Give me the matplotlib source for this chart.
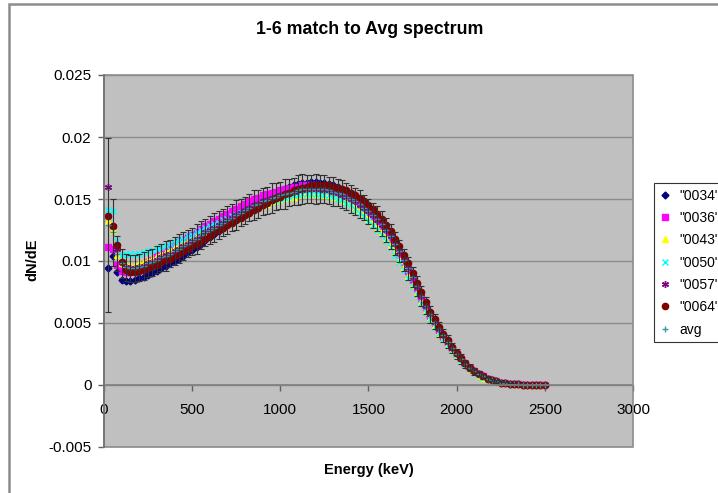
import numpy as np
import matplotlib
matplotlib.use("Agg")
import matplotlib.pyplot as plt
from matplotlib.patches import Rectangle

plt.rcParams['font.family'] = ['Liberation Sans', 'DejaVu Sans']

# energy grid (keV), one point every 25 keV
energy = np.arange(25, 2501, 25)

# dN/dE values, in units of 1e-4
s0034 = [94, 104, 91, 85, 84, 84, 85, 86, 87, 89,
         90, 92, 94, 96, 98, 100, 102, 104, 107, 109,
         111, 114, 117, 119, 122, 124, 127, 130, 132, 135,
         137, 140, 142, 145, 147, 149, 151, 153, 155, 157,
         158, 160, 161, 162, 163, 163, 164, 164, 163, 163,
         162, 161, 160, 158, 156, 154, 152, 149, 146, 143,
         139, 135, 131, 126, 121, 115, 108, 101, 94, 86,
         79, 71, 63, 56, 50, 44, 39, 34, 29, 24,
         20, 16, 13, 11, 9, 7, 5, 4, 3, 2,
         1.5, 1, 0.7, 0.5, 0.4, 0.3, 0.2, 0.1, 0.1, 0]
s0036 = [111, 110, 97, 92, 91, 91, 92, 94, 96, 99,
         101, 104, 106, 108, 111, 113, 115, 117, 119, 121,
         123, 126, 128, 130, 132, 134, 136, 138, 140, 142,
         144, 146, 148, 150, 151, 153, 154, 155, 156, 157,
         158, 159, 160, 160, 161, 161, 161, 161, 160, 160,
         159, 158, 156, 155, 153, 151, 148, 146, 143, 139,
         136, 132, 128, 123, 118, 112, 106, 99, 92, 85,
         78, 70, 63, 56, 50, 44, 39, 34, 29, 25,
         21, 17, 14, 11, 9, 7, 5, 4, 3, 2,
         1.5, 1, 0.8, 0.5, 0.4, 0.3, 0.2, 0.1, 0.1, 0]
s0043 = [132, 125, 105, 98, 97, 97, 97, 98, 99, 101,
         102, 104, 106, 107, 109, 111, 113, 115, 116, 118,
         120, 122, 124, 126, 128, 130, 131, 133, 135, 136,
         138, 139, 141, 142, 144, 145, 146, 148, 149, 150,
         151, 152, 152, 153, 154, 154, 154, 154, 154, 153,
         153, 152, 151, 149, 148, 146, 143, 141, 138, 134,
         131, 127, 123, 118, 113, 107, 101, 95, 88, 81,
         74, 67, 60, 54, 48, 42, 37, 33, 28, 24,
         20, 16, 13, 11, 8, 6, 5, 4, 3, 2,
         1.5, 1, 0.8, 0.5, 0.4, 0.3, 0.2, 0.1, 0.1, 0]
s0050 = [141, 140, 116, 105, 106, 106, 106, 106, 107, 108,
         109, 110, 111, 112, 114, 115, 117, 118, 120, 121,
         123, 125, 127, 128, 130, 131, 133, 134, 136, 137,
         139, 140, 142, 143, 145, 146, 147, 148, 149, 150,
         151, 152, 153, 153, 154, 154, 154, 154, 154, 153,
         153, 152, 150, 149, 147, 145, 142, 139, 136, 132,
         129, 125, 121, 116, 111, 105, 99, 93, 86, 80,
         73, 66, 59, 53, 47, 42, 37, 32, 28, 24,
         20, 16, 13, 10, 8, 6, 5, 4, 3, 2,
         1.5, 1, 0.8, 0.5, 0.4, 0.3, 0.2, 0.1, 0.1, 0]
s0057 = [160, 128, 110, 99, 95, 94, 94, 95, 96, 98,
         99, 101, 103, 105, 106, 108, 110, 112, 114, 116,
         118, 120, 123, 125, 127, 129, 131, 133, 135, 137,
         139, 141, 143, 145, 146, 148, 149, 151, 152, 153,
         154, 155, 156, 157, 157, 158, 158, 158, 158, 157,
         157, 156, 155, 153, 152, 150, 148, 145, 143, 140,
         137, 133, 129, 125, 120, 114, 107, 101, 94, 87,
         79, 72, 64, 57, 51, 45, 40, 35, 30, 25,
         21, 17, 14, 11, 9, 7, 5, 4, 3, 2,
         1.5, 1, 0.8, 0.5, 0.4, 0.3, 0.2, 0.1, 0.1, 0]
s0064 = [136, 128, 113, 99, 93, 91, 91, 92, 93, 94,
         96, 97, 99, 101, 102, 104, 106, 108, 110, 112,
         114, 116, 118, 120, 123, 125, 127, 129, 131, 133,
         135, 137, 139, 141, 143, 145, 147, 149, 151, 152,
         154, 155, 157, 158, 159, 160, 161, 161, 161, 161,
         161, 160, 159, 158, 157, 155, 153, 151, 148, 145,
         142, 138, 134, 129, 124, 118, 112, 105, 98, 90,
         82, 75, 67, 59, 53, 47, 41, 36, 31, 26,
         22, 18, 14, 11, 9, 7, 5, 4, 3, 2,
         1.5, 1, 0.8, 0.5, 0.4, 0.3, 0.2, 0.1, 0.1, 0]
avg = [129, 123, 106, 98, 95, 94, 94, 95, 96, 98,
       99, 101, 103, 104, 106, 108, 110, 112, 114, 116,
       118, 121, 123, 125, 127, 129, 131, 133, 135, 137,
       139, 141, 143, 145, 146, 148, 149, 151, 152, 153,
       154, 155, 156, 157, 158, 158, 158, 158, 158, 158,
       157, 156, 155, 154, 152, 150, 148, 146, 143, 140,
       137, 134, 130, 125, 120, 114, 108, 101, 94, 87,
       80, 72, 64, 57, 51, 45, 40, 35, 30, 25,
       21, 17, 14, 11, 9, 7, 5, 4, 3, 2,
       1.5, 1, 0.8, 0.5, 0.4, 0.3, 0.2, 0.1, 0.1, 0]
avg_err = [70, 27, 14, 12, 11, 11, 11, 11, 11, 11,
           11, 11, 11, 12, 11, 11, 12, 11, 11, 11,
           12, 11, 11, 11, 12, 11, 11, 11, 11, 12,
           11, 11, 11, 12, 11, 11, 11, 12, 11, 11,
           12, 11, 11, 12, 12, 11, 11, 12, 11, 11,
           11, 12, 11, 11, 11, 11, 11, 11, 10, 10,
           10, 10, 10, 10, 10, 9, 9, 9, 9, 8,
           8, 8, 7, 7, 6, 6, 5, 5, 4, 4,
           4, 3, 3, 3, 2, 2, 2, 1, 1, 1,
           1, 1, 0.5, 0.5, 0.5, 0.3, 0.3, 0.2, 0.2, 0.1]

labels = ['"0034"', '"0036"', '"0043"', '"0050"', '"0057"', '"0064"', 'avg']
series = [s0034, s0036, s0043, s0050, s0057, s0064]
colors = ['#000080', '#FF00FF', '#FFFF00', '#00FFFF', '#800080', '#800000']
markers = ['D', 's', '^', 'x', (6, 2, 0), 'o']
msizes = [3.5, 4, 4.5, 4.5, 5, 4.5]

fig = plt.figure(figsize=(7.18, 4.93), dpi=100)
ax = fig.add_axes([104/718, 1 - 447/493, 529/718, 372/493])
ax.set_facecolor('#C0C0C0')

for s, lab, c, m, ms in zip(series, labels, colors, markers, msizes):
    ax.plot(energy, np.array(s) * 1e-4, linestyle='none', marker=m, color=c,
            markersize=ms, markeredgewidth=1.0, label=lab)

ax.plot(energy, np.array(avg) * 1e-4, linestyle='none', marker='+',
        color='#3399AA', markersize=5, markeredgewidth=1.0, label=labels[6])
ax.errorbar(energy, np.array(avg) * 1e-4, yerr=np.array(avg_err) * 1e-4,
            fmt='none', ecolor='#303030', elinewidth=0.8, capsize=2.5,
            capthick=0.8)

ax.set_xlim(0, 3000)
ax.set_ylim(-0.005, 0.025)
ax.set_xticks([0, 500, 1000, 1500, 2000, 2500, 3000])
ax.set_yticks([-0.005, 0, 0.005, 0.01, 0.015, 0.02, 0.025])
ax.set_yticklabels(['-0.005', '0', '0.005', '0.01', '0.015', '0.02', '0.025'])
ax.yaxis.grid(True, color='#8C8C8C', linewidth=1.0)
ax.set_axisbelow(True)

for side in ['top', 'right', 'left']:
    ax.spines[side].set_visible(False)
ax.spines['bottom'].set_position(('data', 0))
ax.spines['bottom'].set_color('#808080')
ax.spines['bottom'].set_linewidth(1.2)
ax.add_patch(Rectangle((0, 0), 1, 1, transform=ax.transAxes, fill=False,
                       edgecolor='#8C8C8C', linewidth=1.2, clip_on=False,
                       zorder=5))
ax.plot([0, 0], [0, 1], transform=ax.transAxes, color='#707070',
        linewidth=1.2, clip_on=False, zorder=6)

ax.tick_params(axis='both', colors='#606060', labelcolor='black',
               labelsize=11, direction='out', length=4, width=1)
ax.tick_params(axis='x', pad=9)
ax.tick_params(axis='y', pad=5)

fig.text(370/718, 1 - 29/493, '1-6 match to Avg spectrum', ha='center',
         va='center', fontsize=12.8, fontweight='bold')
fig.text(369/718, 1 - 470/493, 'Energy (keV)', ha='center', va='center',
         fontsize=10.5, fontweight='bold')
fig.text(32/718, 1 - 260/493, 'dN/dE', ha='center', va='center',
         rotation=90, fontsize=10.5, fontweight='bold')

# chart border
fig.patches.append(Rectangle((9/718, -0.1), 1.2, 1 - 4/493 + 0.1,
                             transform=fig.transFigure, fill=False,
                             edgecolor='#8C8C8C', linewidth=1.8))

leg = ax.legend(loc='upper left', bbox_to_anchor=(654/718, 1 - 183/493),
                bbox_transform=fig.transFigure, borderaxespad=0,
                fontsize=10, frameon=True, fancybox=False, handlelength=0.8,
                handletextpad=0.6, labelspacing=0.6, borderpad=0.4)
leg.get_frame().set_edgecolor('black')
leg.get_frame().set_linewidth(0.8)

plt.savefig("out.png", dpi=100)
